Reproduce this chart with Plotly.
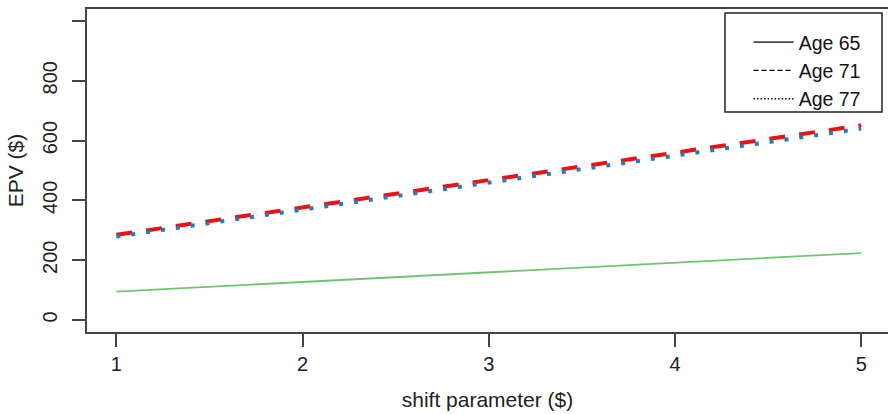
import plotly.graph_objects as go

shift = [1, 2, 3, 4, 5]
age65 = [95, 127, 160, 192, 224]
age71 = [285, 376, 468, 559, 651]
age77 = [279, 369, 459, 550, 640]
labels = ["Age 65", "Age 71", "Age 77"]
ytick_vals = [0, 200, 400, 600, 800, 1000]
ytick_text = ["0", "200", "400", "600", "800", ""]
xtick_vals = [1, 2, 3, 4, 5]

FONT = "Liberation Sans, Arial, sans-serif"

fig = go.Figure()
fig.add_trace(go.Scatter(x=shift, y=age65, mode="lines", showlegend=False,
                         line=dict(color="#72C472", width=1.8)))
fig.add_trace(go.Scatter(x=shift, y=age71, mode="lines", showlegend=False,
                         line=dict(color="#EE1111", width=4, dash="16px,14px")))
fig.add_trace(go.Scatter(x=shift, y=age77, mode="lines", showlegend=False,
                         line=dict(color="#2878BD", width=4, dash="4px,11px")))

# legend entries (black, as in the original)
for name, d in zip(labels, ["solid", "5px,3px", "1.5px,2px"]):
    fig.add_trace(go.Scatter(x=[None], y=[None], mode="lines", name=name,
                             line=dict(color="black", width=1.3, dash=d)))

# legend frame (paper coordinates)
fig.add_shape(type="rect", xref="paper", yref="paper",
              x0=0.7965, x1=0.9925, y0=0.681, y1=0.9876,
              line=dict(color="#222", width=1.5), fillcolor="white",
              layer="above")

fig.update_layout(
    width=888, height=414,
    margin=dict(l=87, r=0, t=9, b=82, autoexpand=False),
    paper_bgcolor="white", plot_bgcolor="white",
    font=dict(family=FONT, size=20, color="#222"),
    legend=dict(x=0.826, y=0.957, xanchor="left", yanchor="top",
                bgcolor="rgba(0,0,0,0)", borderwidth=0,
                font=dict(size=19.5, color="#111"), tracegroupgap=0,
                itemwidth=40),
    xaxis=dict(range=[0.842, 5.144], tickvals=xtick_vals, showgrid=False,
               automargin=False,
               zeroline=False, showline=True, mirror=True, linecolor="#444",
               linewidth=1.5, ticks="outside", ticklen=13, tickwidth=1.5,
               tickcolor="#444", tickfont=dict(size=20),
               title=dict(text="shift parameter ($)", font=dict(size=21),
                          standoff=19)),
    yaxis=dict(range=[-40, 1040], tickvals=ytick_vals, ticktext=ytick_text,
               automargin=False,
               showgrid=False, zeroline=False, showline=True, linecolor="#444",
               linewidth=1.5, ticks="outside", ticklen=13, tickwidth=1.5,
               tickcolor="#444", tickangle=-90, tickfont=dict(size=20),
               ticklabelstandoff=7,
               title=dict(text="EPV ($)", font=dict(size=21), standoff=10)),
)

fig.write_html("out.html", config={"displayModeBar": False},
               post_script="document.body.style.margin='0';")
